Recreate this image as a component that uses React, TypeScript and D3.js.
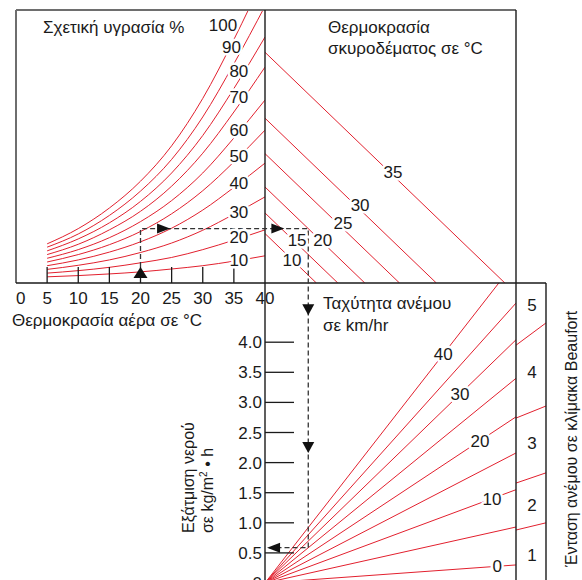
import React from "react";
import * as d3 from "d3";

// Air temperature grid (°C) shared by the relative-humidity curves
const airTemps = [5, 10, 15, 20, 25, 30, 35, 40];
const airTempTicks = [0, 5, 10, 15, 20, 25, 30, 35, 40];

// Air vapour pressure (kPa) along each relative-humidity curve
const humidityLevels = [10, 20, 30, 40, 50, 60, 70, 80, 90, 100];
const rh10 = [0.15, 0.18, 0.22, 0.27, 0.34, 0.42, 0.53, 0.66];
const rh20 = [0.24, 0.3, 0.38, 0.49, 0.62, 0.81, 1.04, 1.29];
const rh30 = [0.33, 0.43, 0.56, 0.74, 0.97, 1.28, 1.67, 2.09];
const rh40 = [0.42, 0.56, 0.75, 1.0, 1.33, 1.77, 2.32, 2.91];
const rh50 = [0.51, 0.69, 0.93, 1.25, 1.68, 2.24, 2.94, 3.71];
const rh60 = [0.6, 0.81, 1.1, 1.49, 2.0, 2.67, 3.52, 4.44];
const rh70 = [0.69, 0.94, 1.29, 1.74, 2.35, 3.15, 4.15, 5.24];
const rh80 = [0.78, 1.07, 1.46, 1.98, 2.67, 3.58, 4.72, 5.97];
const rh90 = [0.87, 1.19, 1.64, 2.23, 3.0, 4.03, 5.32, 6.72];
const rh100 = [0.95, 1.32, 1.82, 2.47, 3.33, 4.48, 5.91, 7.48];
const humidityCurves = [rh10, rh20, rh30, rh40, rh50, rh60, rh70, rh80, rh90, rh100];
// Where each humidity label sits (air temperature, vapour pressure)
const humidityLabelTemp = [35.8, 35.8, 35.8, 35.8, 35.8, 35.8, 35.8, 35.8, 34.6, 33.25];
const humidityLabelVapour = [0.56, 1.12, 1.72, 2.43, 3.08, 3.71, 4.51, 5.15, 5.73, 6.26];

// Concrete surface temperature lines: surface vapour pressure (kPa)
const concreteTemps = [10, 15, 20, 25, 30, 35];
const concreteVapour = [1.2, 1.7, 2.33, 3.14, 4.0, 5.6];
// Label placement (pressure difference, vapour pressure)
const concreteLabelDiff = [0.63, 0.75, 1.35, 1.82, 2.22, 2.99];
const concreteLabelVapour = [0.56, 1.04, 1.04, 1.46, 1.89, 2.69];

// Wind speed lines (km/h): evaporation reached at the largest pressure difference
const windSpeeds = [0, 5, 10, 15, 20, 25, 30, 35, 40];
const windEvapAtEdge = [0.3, 0.93, 1.55, 2.16, 2.76, 3.4, 4.04, 4.65, 5.35];
const windLabelled = [0, 10, 20, 30, 40];
const windLabelDiff = [5.42, 5.3, 5.02, 4.55, 4.16];

// Evaporation axis (kg/m²·h)
const evapTicks = [0, 0.5, 1, 1.5, 2, 2.5, 3, 3.5, 4];

// Beaufort scale column
const beaufortNumbers = [1, 2, 3, 4, 5];
const beaufortLabelEvap = [0.47, 1.3, 2.33, 3.5, 4.62];
const beaufortBoundLeft = [0.88, 1.66, 2.74, 3.95];
const beaufortBoundRight = [1.0, 1.83, 2.94, 4.32];

// Worked example path
const exampleAirTemp = 20;
const exampleVapour = 1.32;
const exampleConcreteTemp = 20;
const exampleWind = 25;

// Layout
const W = 582;
const H = 580;
const LEFT = 16;
const MID = 265;
const RIGHT = 516;
const BEAU = 546;
const TOP = 10;
const AXIS = 283;
const BOTTOM = 580;
const MAX_DIFF = 5.86;

const RED = "#e2202e";
const INK = "#1a1a1a";
const FONT = "'Liberation Sans Narrow', 'Arial Narrow', 'Liberation Sans', sans-serif";

const xTemp = d3.scaleLinear().domain([0, 40]).range([LEFT, MID]);
const yVap = d3.scaleLinear().domain([0, 6.626]).range([AXIS, TOP]);
const xDiff = d3.scaleLinear().domain([0, MAX_DIFF]).range([MID, RIGHT]);
const yEvap = d3.scaleLinear().domain([0, 5]).range([583, 282]);

const humidityLine = d3
  .line<number>()
  .x((_, i) => xTemp(airTemps[i]))
  .y((d) => yVap(d))
  .curve(d3.curveMonotoneX);

const halo = {
  paintOrder: "stroke" as const,
  stroke: "#fff",
  strokeWidth: 5,
  strokeLinejoin: "round" as const,
};

function tri(cx: number, cy: number, dir: "up" | "down" | "left" | "right", len = 12, half = 6) {
  const h = len / 2;
  let pts: [number, number][];
  if (dir === "up") pts = [[cx, cy - h], [cx - half, cy + h], [cx + half, cy + h]];
  else if (dir === "down") pts = [[cx, cy + h], [cx - half, cy - h], [cx + half, cy - h]];
  else if (dir === "right") pts = [[cx + h, cy], [cx - h, cy - half], [cx - h, cy + half]];
  else pts = [[cx - h, cy], [cx + h, cy - half], [cx + h, cy + half]];
  return "M" + pts.map((p) => p.join(",")).join("L") + "Z";
}

export default function App() {
  const exIdx = concreteTemps.indexOf(exampleConcreteTemp);
  const windIdx = windSpeeds.indexOf(exampleWind);
  const exDiff = concreteVapour[exIdx] - exampleVapour;
  const exEvap = (windEvapAtEdge[windIdx] / MAX_DIFF) * exDiff;
  const ex0 = xTemp(exampleAirTemp);
  const exY = yVap(exampleVapour);
  const exX = xDiff(exDiff);
  const exEY = yEvap(exEvap);

  return (
    <svg
      width={W}
      height={H}
      style={{ position: "absolute", left: 0, top: 0, background: "#fff" }}
      fontFamily={FONT}
    >
      <defs>
        <clipPath id="clip-air">
          <rect x={LEFT} y={TOP} width={MID - LEFT} height={AXIS - TOP} />
        </clipPath>
        <clipPath id="clip-concrete">
          <rect x={MID} y={TOP} width={RIGHT - MID} height={AXIS - TOP} />
        </clipPath>
        <clipPath id="clip-wind">
          <rect x={MID} y={AXIS} width={RIGHT - MID} height={BOTTOM - AXIS} />
        </clipPath>
      </defs>

      {/* relative humidity curves */}
      <g clipPath="url(#clip-air)" fill="none" stroke={RED} strokeWidth={1}>
        {humidityCurves.map((c, i) => (
          <path key={humidityLevels[i]} d={humidityLine(c) || ""} />
        ))}
      </g>

      {/* concrete temperature lines */}
      <g clipPath="url(#clip-concrete)" stroke={RED} strokeWidth={1}>
        {concreteVapour.map((v, i) => (
          <line key={concreteTemps[i]} x1={xDiff(0)} y1={yVap(v)} x2={xDiff(v)} y2={yVap(0)} />
        ))}
      </g>

      {/* wind speed fan */}
      <g clipPath="url(#clip-wind)" stroke={RED} strokeWidth={1}>
        {windEvapAtEdge.map((e, i) => (
          <line key={windSpeeds[i]} x1={xDiff(0)} y1={yEvap(0)} x2={xDiff(MAX_DIFF)} y2={yEvap(e)} />
        ))}
      </g>

      {/* Beaufort boundaries */}
      <g stroke={RED} strokeWidth={1}>
        {beaufortBoundLeft.map((e, i) => (
          <line key={i} x1={RIGHT} y1={yEvap(e)} x2={BEAU} y2={yEvap(beaufortBoundRight[i])} />
        ))}
      </g>

      {/* frame */}
      <g fill="none">
        <line x1={LEFT} y1={TOP} x2={RIGHT} y2={TOP} stroke="#6e6e6e" strokeWidth={2} />
        <line x1={LEFT} y1={TOP} x2={LEFT} y2={AXIS} stroke="#6e6e6e" strokeWidth={2} />
        <line x1={LEFT} y1={AXIS} x2={BEAU} y2={AXIS} stroke={INK} strokeWidth={1.4} />
        <line x1={MID} y1={TOP} x2={MID} y2={BOTTOM} stroke={INK} strokeWidth={1.4} />
        <line x1={RIGHT} y1={TOP} x2={RIGHT} y2={BOTTOM} stroke={INK} strokeWidth={1.4} />
        <line x1={BEAU} y1={AXIS} x2={BEAU} y2={BOTTOM} stroke={INK} strokeWidth={1.4} />
      </g>

      {/* air temperature ticks */}
      <g stroke={INK} strokeWidth={1.3}>
        {airTempTicks
          .filter((t) => t > 0 && t < 40)
          .map((t) => (
            <line key={t} x1={xTemp(t)} y1={AXIS} x2={xTemp(t)} y2={AXIS - 16} />
          ))}
      </g>
      <g fontSize={17} fill={INK}>
        {airTempTicks.map((t, i) => (
          <text key={t} x={xTemp(t)} y={304} textAnchor={i === 0 ? "start" : "middle"}>
            {t}
          </text>
        ))}
      </g>

      {/* evaporation ticks */}
      <g stroke={INK} strokeWidth={1.3}>
        {evapTicks
          .filter((t) => t > 0)
          .map((t) => (
            <line key={t} x1={MID} y1={yEvap(t)} x2={MID + 29} y2={yEvap(t)} />
          ))}
      </g>
      <g fontSize={17} fill={INK} textAnchor="end">
        {evapTicks.map((t) => (
          <text key={t} x={262} y={yEvap(t) + 6}>
            {t === 0 ? "0" : t.toFixed(1)}
          </text>
        ))}
      </g>

      {/* worked example */}
      <path
        d={`M${ex0},${AXIS - 16}V${exY}H${exX}V${exEY}H${MID + 4}`}
        fill="none"
        stroke="#333"
        strokeWidth={1.3}
        strokeDasharray="5,3"
      />
      <g fill="#111">
        <path d={tri(ex0, AXIS - 10.5, "up", 11, 7)} />
        <path d={tri(xTemp(23.7), exY, "right", 13, 5)} />
        <path d={tri(xDiff(0.3), exY, "right", 13, 5)} />
        <path d={tri(exX, yEvap(4.54), "down", 11, 6)} />
        <path d={tri(exX, yEvap(2.25), "down", 11, 6)} />
        <path d={tri(xDiff(0.2), exEY, "left", 13, 5)} />
      </g>

      {/* curve labels */}
      <g fontSize={17} fill={INK} textAnchor="middle" style={halo}>
        {humidityLevels.map((h, i) => (
          <text key={h} x={xTemp(humidityLabelTemp[i])} y={yVap(humidityLabelVapour[i]) + 6}>
            {h}
          </text>
        ))}
        {concreteTemps.map((t, i) => (
          <text key={t} x={xDiff(concreteLabelDiff[i])} y={yVap(concreteLabelVapour[i]) + 6}>
            {t}
          </text>
        ))}
        {windLabelled.map((w, i) => {
          const e = (windEvapAtEdge[windSpeeds.indexOf(w)] / MAX_DIFF) * windLabelDiff[i];
          return (
            <text key={w} x={xDiff(windLabelDiff[i])} y={yEvap(e) + 6}>
              {w}
            </text>
          );
        })}
      </g>

      {/* Beaufort numbers */}
      <g fontSize={17} fill={INK} textAnchor="middle">
        {beaufortNumbers.map((b, i) => (
          <text key={b} x={532} y={yEvap(beaufortLabelEvap[i]) + 6}>
            {b}
          </text>
        ))}
      </g>

      {/* titles */}
      <g fontSize={17} fill={INK}>
        <text x={43} y={33}>Σχετική υγρασία %</text>
        <text x={328} y={33}>Θερμοκρασία</text>
        <text x={328} y={54}>σκυροδέματος σε °C</text>
        <text x={12} y={326}>Θερμοκρασία αέρα σε °C</text>
        <text x={323} y={309}>Ταχύτητα ανέμου</text>
        <text x={323} y={331}>σε km/hr</text>
      </g>
      <g fontSize={16} fill={INK}>
        <text transform="translate(194,533) rotate(-90)">Εξάτμιση νερού</text>
        <text transform="translate(213,533) rotate(-90)">
          σε kg/m
          <tspan fontSize={10} dy={-6}>2</tspan>
          <tspan dy={6}> • h</tspan>
        </text>
        <text transform="translate(577,567) rotate(-90)">Ένταση ανέμου σε κλίμακα Beaufort</text>
      </g>
    </svg>
  );
}
